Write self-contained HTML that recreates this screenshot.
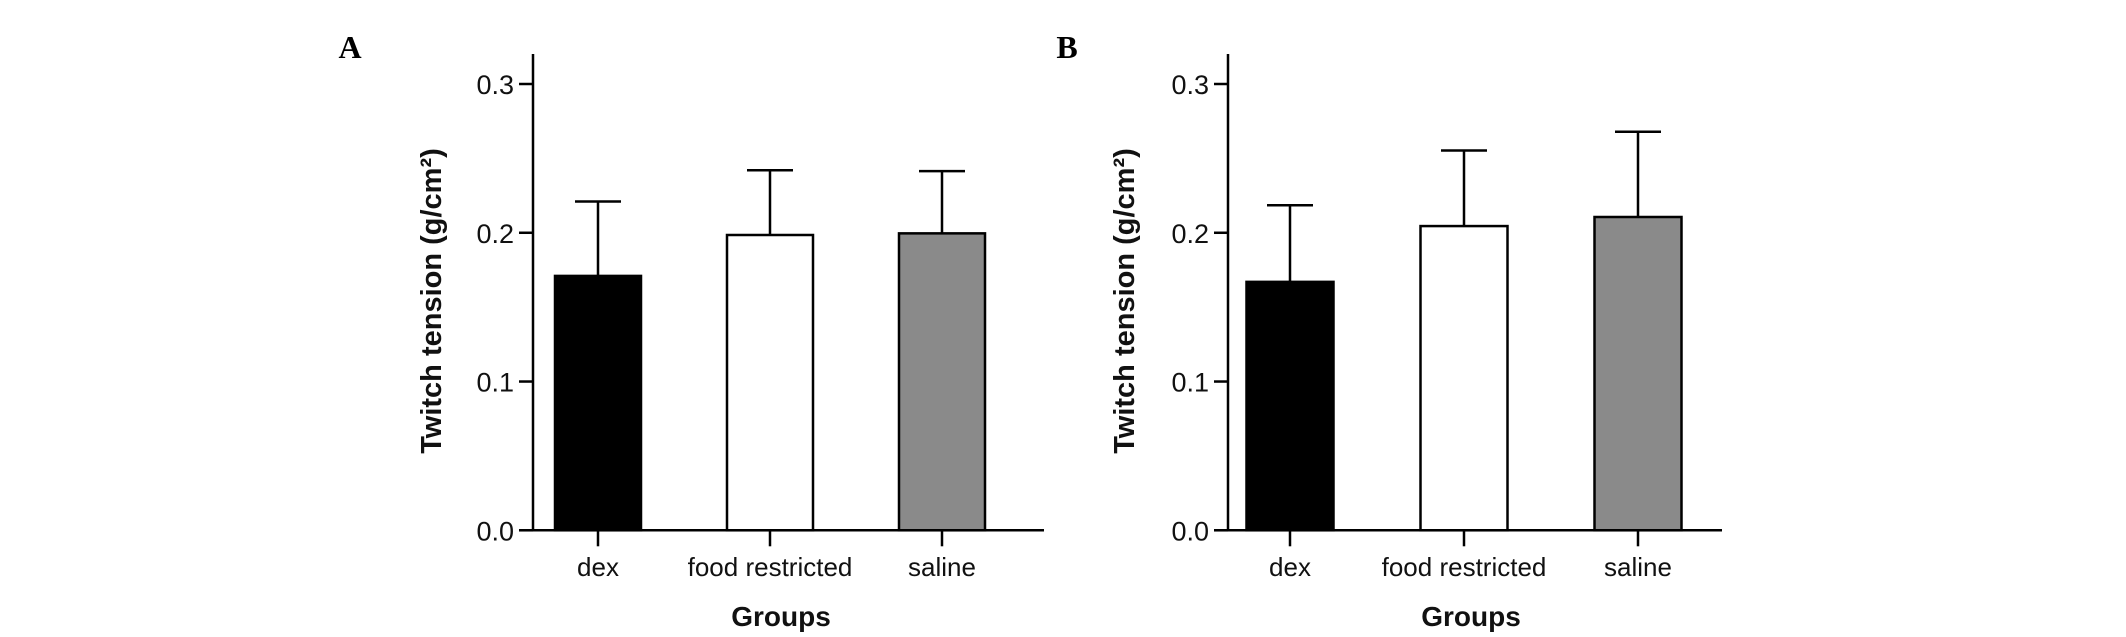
<!DOCTYPE html>
<html><head><meta charset="utf-8"><style>
html,body{margin:0;padding:0;background:#fff;}
svg{display:block;font-family:"Liberation Sans",Arial,sans-serif;}
</style></head><body>
<svg id="chart" width="2126" height="637" viewBox="0 0 2126 637" xmlns="http://www.w3.org/2000/svg">
<rect width="2126" height="637" fill="#fff"/>
</svg>
<script>
const categories = ["dex", "food restricted", "saline"];
const panelLabels = ["A", "B"];
const meansA = [0.171, 0.1985, 0.1996];
const errTopA = [0.221, 0.242, 0.2414];
const meansB = [0.167, 0.2045, 0.2106];
const errTopB = [0.2185, 0.2553, 0.2679];
const yTicks = [0.0, 0.1, 0.2, 0.3];
const yTickLabels = ["0.0", "0.1", "0.2", "0.3"];
const fills = ["#000000", "#ffffff", "#8a8a8a"];

const NS = "http://www.w3.org/2000/svg";
const svg = document.getElementById("chart");
function mk(tag, attrs, parent) {
  const e = document.createElementNS(NS, tag);
  for (const k in attrs) e.setAttribute(k, attrs[k]);
  (parent || svg).appendChild(e);
  return e;
}
const panels = [
  {label: panelLabels[0], means: meansA, errs: errTopA, axisX: 533, right: 1044, c0: 598, step: 172, bw: 86, lx: 350, titleX: 431, groupsX: 781},
  {label: panelLabels[1], means: meansB, errs: errTopB, axisX: 1228, right: 1722, c0: 1290, step: 174, bw: 87, lx: 1067, titleX: 1124, groupsX: 1471}
];
const y0 = 530.3, yTop = 84, vTop = 0.3;
function yScale(v) { return y0 - (v / vTop) * (y0 - yTop); }

panels.forEach((p, pi) => {
  const g = mk("g", {});
  
  
  const xScale = i => p.c0 + i * p.step;

  const pl = mk("text", {x: p.lx, y: 58, "text-anchor": "middle", "font-family": "Liberation Serif, serif", "font-weight": "bold", "font-size": 32}, g);
  pl.textContent = p.label;
  
  

  categories.forEach((c, i) => {
    const cx = xScale(i);
    const yt = yScale(p.means[i]);
    const ye = yScale(p.errs[i]);
    const eb = mk("path", {d: `M${cx} ${yt} V${ye} M${cx - 23} ${ye} H${cx + 23}`, stroke: "#000", "stroke-width": 2.5, fill: "none"}, g);
    
    
    const r = mk("rect", {x: cx - p.bw / 2, y: yt, width: p.bw, height: y0 - yt, fill: fills[i], stroke: "#000", "stroke-width": 2.5}, g);
    
    
    const tk = mk("line", {x1: cx, x2: cx, y1: y0, y2: y0 + 16, stroke: "#000", "stroke-width": 2.5}, g);
    
    
    const t = mk("text", {x: cx, y: 576, "text-anchor": "middle", "font-size": 26, fill: "#111"}, g);
    t.textContent = c;
    
    
  });

  const ya = mk("line", {x1: p.axisX, x2: p.axisX, y1: 54, y2: y0, stroke: "#000", "stroke-width": 2.5}, g);
  
  
  const xa = mk("line", {x1: p.axisX - 14, x2: p.right, y1: y0, y2: y0, stroke: "#000", "stroke-width": 2.5}, g);
  
  
  yTicks.forEach((v, i) => {
    const yy = yScale(v);
    const tk = mk("line", {x1: p.axisX - 14, x2: p.axisX, y1: yy, y2: yy, stroke: "#000", "stroke-width": 2.5}, g);
    
    
    const t = mk("text", {x: p.axisX - 19, y: yy + 10, "text-anchor": "end", "font-size": 27, fill: "#111"}, g);
    t.textContent = yTickLabels[i];
    
    
  });

  const yt = mk("text", {x: 0, y: 0, "text-anchor": "middle", "font-size": 29, "font-weight": "bold", fill: "#111", transform: `translate(${p.titleX + 10},301) rotate(-90)`}, g);
  yt.textContent = "Twitch tension (g/cm²)";
  
  
  const xt = mk("text", {x: p.groupsX, y: 626, "text-anchor": "middle", "font-size": 28, "font-weight": "bold", fill: "#111"}, g);
  xt.textContent = "Groups";
  
  
});
</script>
</body></html>
